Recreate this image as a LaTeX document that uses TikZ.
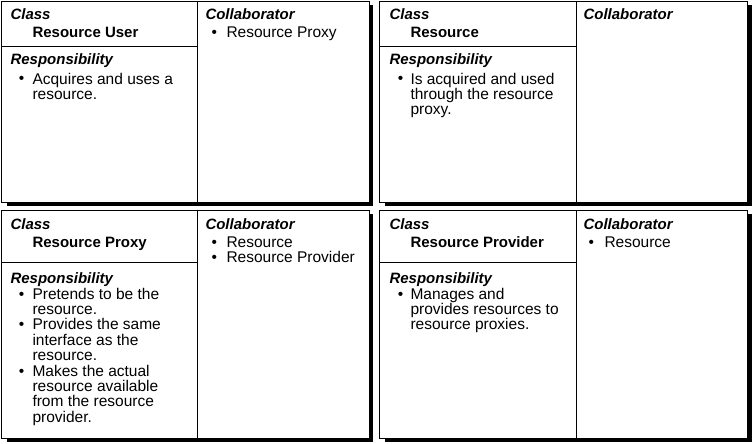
\documentclass[tikz,border=0pt]{standalone}
\usepackage{fontspec}
\setmainfont{Liberation Sans}

\begin{document}
\begin{tikzpicture}[x=1pt, y=-1pt, line width=1pt,
        every node/.style={inner sep=0pt, anchor=base west, font=\fontsize{15.5}{15.4}\selectfont},
        card/.style={draw, fill=white},
        cardshadow/.style={fill=black, draw=none},
        head/.style={font=\fontsize{15}{15.4}\selectfont\bfseries\itshape},
        classname/.style={font=\fontsize{15}{15.4}\selectfont\bfseries},
        item/.style={align=left}]
        \useasboundingbox (0,0) rectangle (752,444);

        \foreach \xa/\ya/\xb/\yb/\xd/\yh in {1.5/1.5/369/202/197/47, 379.5/1.5/747.5/202/576/47,
                1.5/210/369/438/197/262, 379.5/210/747.5/438/576/262} {
            \fill[cardshadow] (\xa+5,\ya+4) rectangle (\xb+4,\yb+4);
            \draw[card] (\xa,\ya) rectangle (\xb,\yb);
            \draw (\xd,\ya) -- (\xd,\yb);
            \draw (\xa,\yh) -- (\xd,\yh);
        }

        % item nodes sit on the baseline of their last line
        \node[head] (userclass) at (10,19.5) {Class};
        \node[classname] (username) at (32,37.5) {Resource User};
        \node[head] (userresp) at (10,65) {Responsibility};
        \node (userdot1) at (18.4,84) {•};
        \node[item] (userresp1) at (32,99.4) {Acquires and uses a\\resource.};
        \node[head] (usercoll) at (205,19.5) {Collaborator};
        \node (usercdot1) at (211,37.5) {•};
        \node (usercoll1) at (226,37.5) {Resource Proxy};

        \node[head] (resclass) at (389,19.5) {Class};
        \node[classname] (resname) at (410,37.5) {Resource};
        \node[head] (resresp) at (389,65) {Responsibility};
        \node (resdot1) at (397.4,84) {•};
        \node[item] (resresp1) at (410,114.8) {Is acquired and used\\through the resource\\proxy.};
        \node[head] (rescoll) at (583,19.5) {Collaborator};

        \node[head] (proxyclass) at (10,229.5) {Class};
        \node[classname] (proxyname) at (32,247.5) {Resource Proxy};
        \node[head] (proxyresp) at (10,283) {Responsibility};
        \node (proxydot1) at (18.4,299) {•};
        \node[item] (proxyresp1) at (32,314.4) {Pretends to be the\\resource.};
        \node (proxydot2) at (18.4,329.8) {•};
        \node[item] (proxyresp2) at (32,360.6) {Provides the same\\interface as the\\resource.};
        \node (proxydot3) at (18.4,376) {•};
        \node[item] (proxyresp3) at (32,422.2) {Makes the actual\\resource available\\from the resource\\provider.};
        \node[head] (proxycoll) at (205,229.5) {Collaborator};
        \node (proxycdot1) at (211,247.5) {•};
        \node (proxycoll1) at (226,247.5) {Resource};
        \node (proxycdot2) at (211,262.9) {•};
        \node (proxycoll2) at (226,262.9) {Resource Provider};

        \node[head] (provclass) at (389,229.5) {Class};
        \node[classname] (provname) at (410,247.5) {Resource Provider};
        \node[head] (provresp) at (389,283) {Responsibility};
        \node (provdot1) at (397.4,299) {•};
        \node[item] (provresp1) at (410,329.8) {Manages and\\provides resources to\\resource proxies.};
        \node[head] (provcoll) at (583,229.5) {Collaborator};
        \node (provcdot1) at (588,247.5) {•};
        \node (provcoll1) at (604,247.5) {Resource};
\end{tikzpicture}
\end{document}
